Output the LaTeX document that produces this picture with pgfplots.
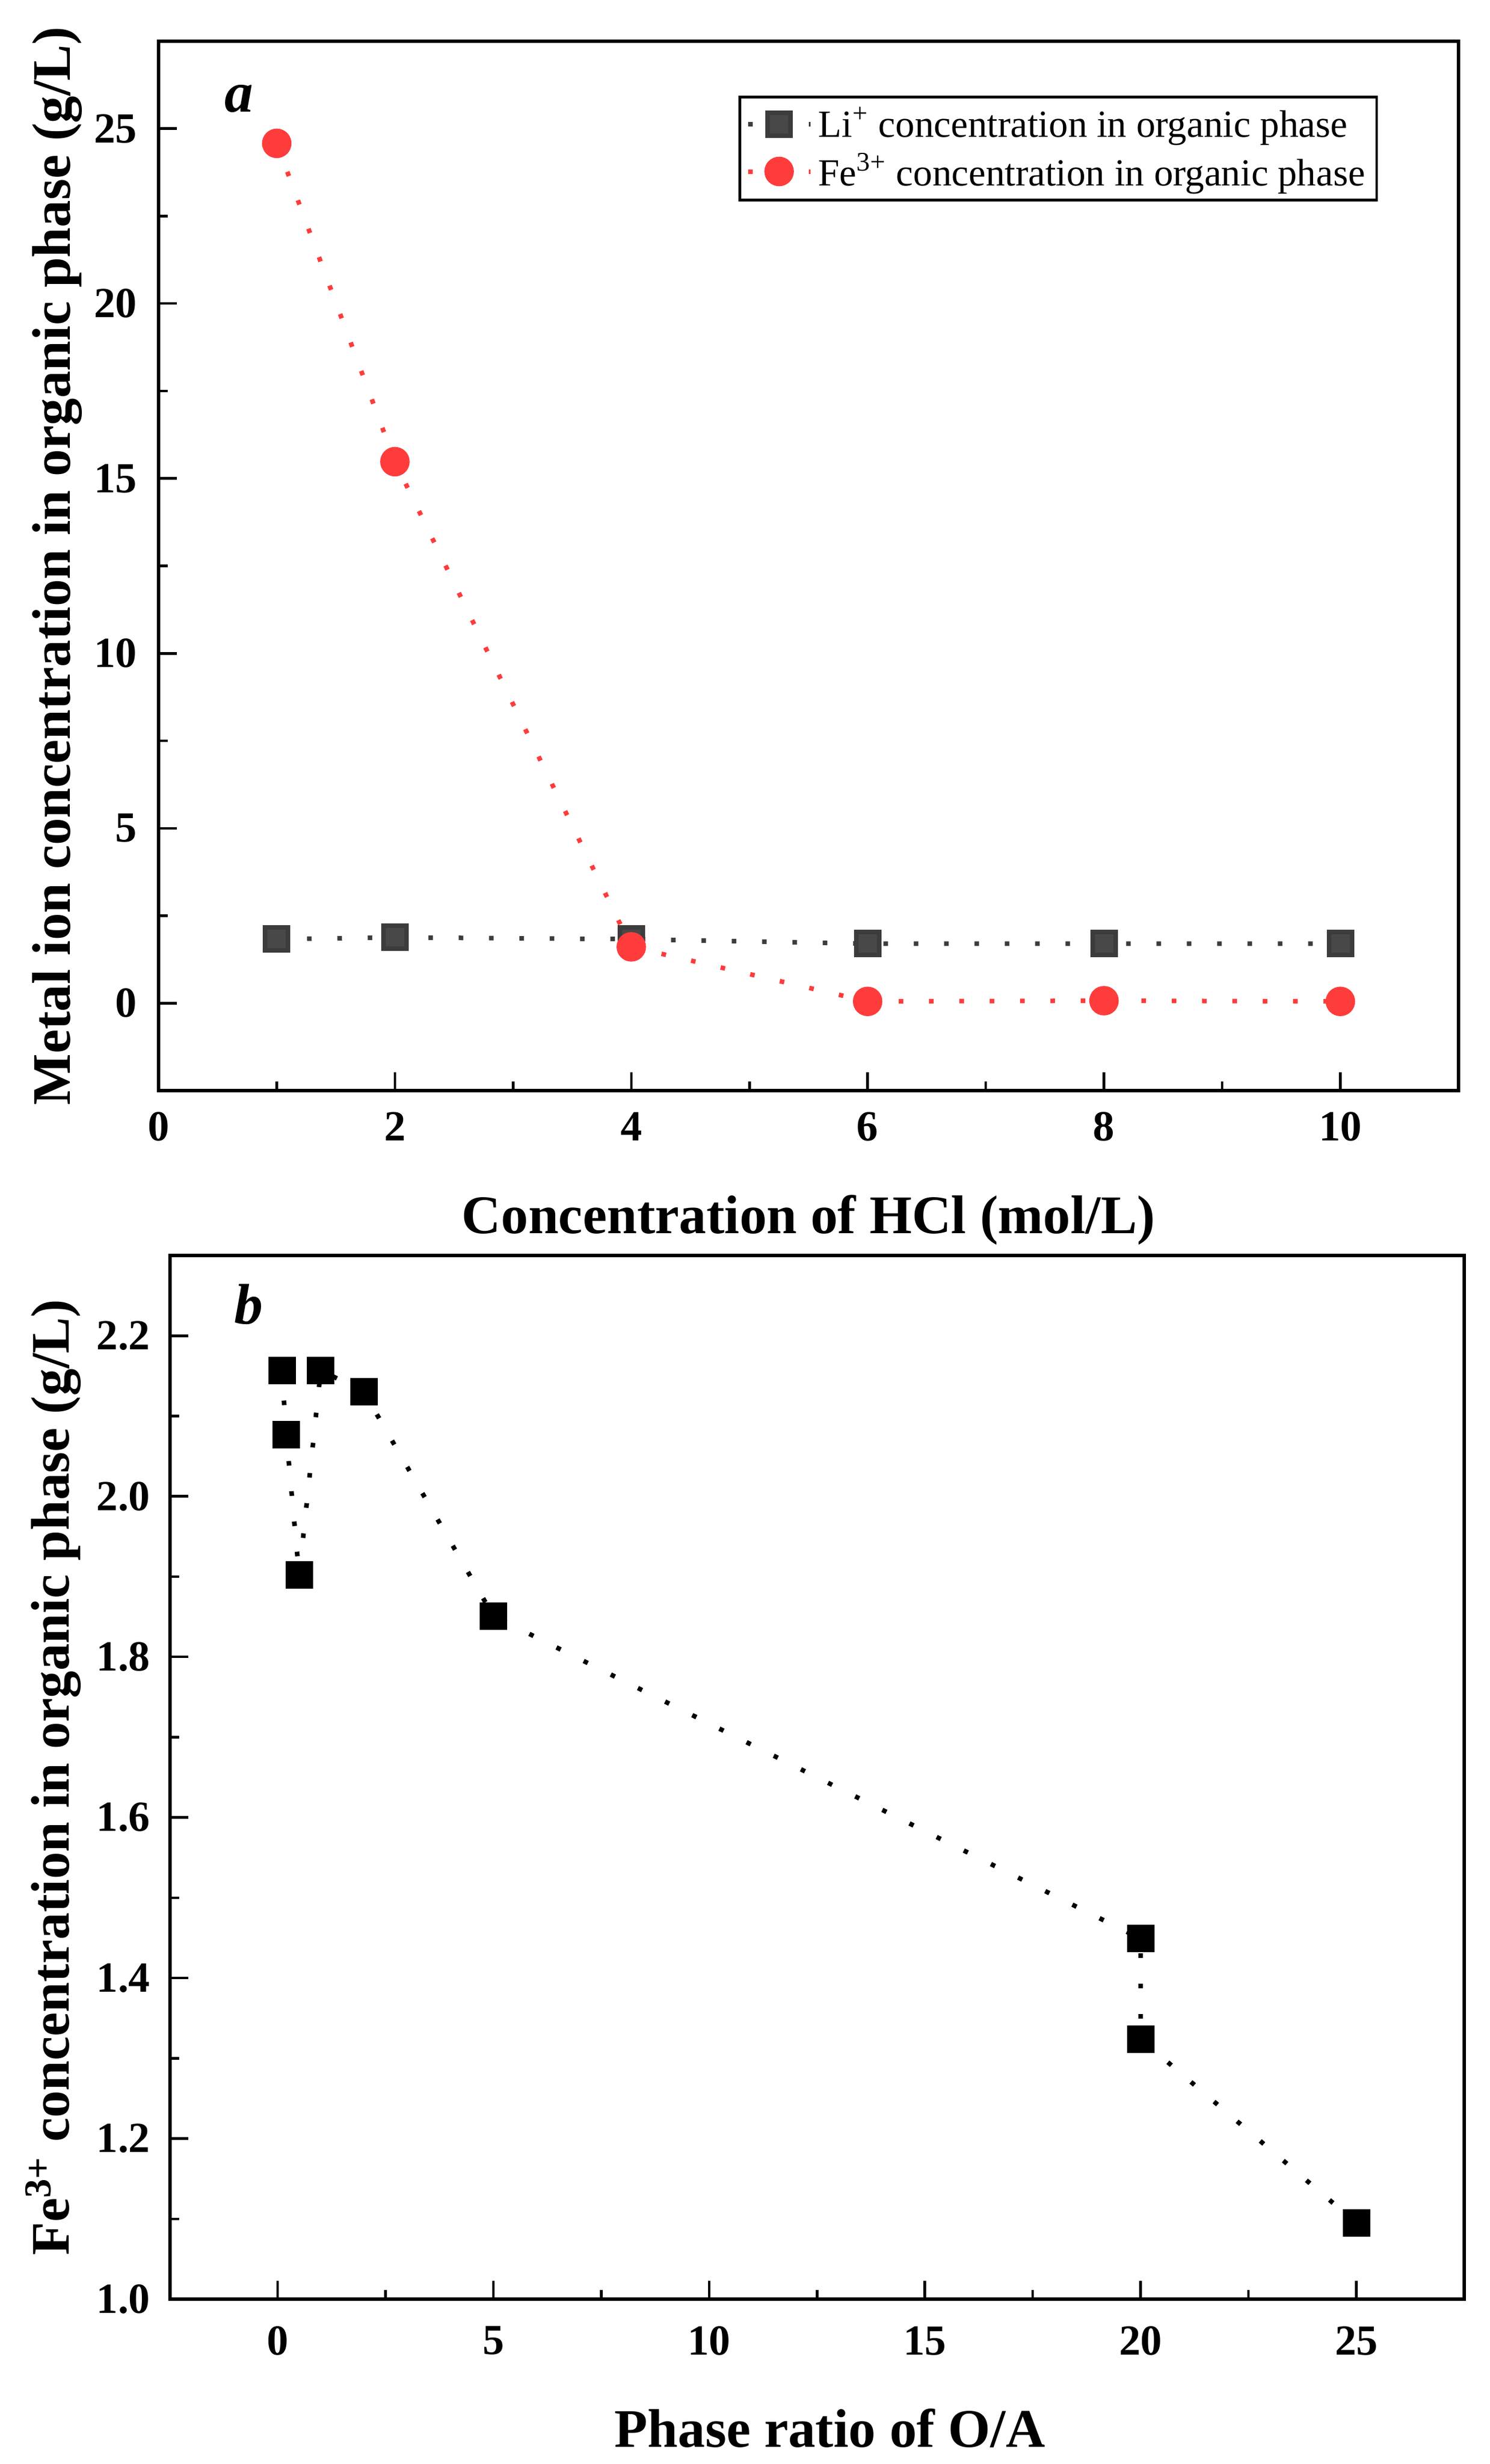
\documentclass[border=0pt]{standalone}
\usepackage{pgfplots}
\pgfplotsset{compat=1.18}
\usepackage{fontspec}
\setmainfont{Liberation Serif}

\definecolor{ligray}{RGB}{72,72,72}
\definecolor{liline}{RGB}{60,60,60}
\definecolor{fered}{RGB}{255,60,60}

\pgfplotsset{
  panel/.style={
    scale only axis,
    axis line style={line width=1.2pt},
    tick align=inside,
    tick pos=left,
    major tick length=6.5pt,
    minor tick length=3.2pt,
    every tick/.style={black, line width=0.9pt},
    tick label style={font=\fontsize{15}{17}\selectfont\bfseries},
    /pgf/number format/assume math mode=true,
    label style={font=\fontsize{19}{22}\selectfont\bfseries},
  },
  dots/.style={line width=1.6pt, dash pattern=on 1.6pt off 9pt},
}

\begin{document}
\begin{tikzpicture}
\path[use as bounding box] (0,0) rectangle (520.4pt,-860.8pt);

% (a) HCl concentration
\begin{axis}[panel,
  at={(55.4pt,-381pt)}, anchor=south west,
  width=454.2pt, height=366.6pt,
  xmin=0, xmax=11, ymin=-2.5, ymax=27.5,
  xtick={0,2,4,6,8,10}, minor x tick num=1,
  ytick={0,5,10,15,20,25}, minor y tick num=1,
  xticklabel style={yshift=-4pt},
  yticklabel style={xshift=-4pt},
  xlabel={Concentration of HCl (mol/L)},
  ylabel={Metal ion concentration in organic phase (g/L)},
  xlabel style={at={(axis description cs:0.5,-0.136)}, anchor=base},
  ylabel style={at={(axis description cs:-0.068,0.5)}, anchor=base},
  legend cell align=left,
  legend image code/.code={\draw[mark repeat=2, mark phase=2, #1] plot coordinates {(0pt,0pt) (10.9pt,0pt) (21.8pt,0pt)};},
  legend style={at={(0.938,0.948)}, anchor=north east, draw=black, line width=0.9pt,
    font=\fontsize{13.4}{15}\selectfont, inner xsep=2pt, inner ysep=1.5pt, row sep=0pt,
    /tikz/every even column/.append style={column sep=6pt}},
]
\addplot[liline, dots, mark=square*, mark size=4pt, mark options={solid, draw=none, fill=ligray}]
  coordinates {(1,1.83) (2,1.88) (4,1.83) (6,1.70) (8,1.70) (10,1.70)};
\addlegendentry{Li\textsuperscript{+} concentration in organic phase}
\addplot[fered, dots, mark=*, mark size=4.35pt, mark options={solid, draw=none, fill=fered}]
  coordinates {(1,24.58) (2,15.48) (4,1.61) (6,0.05) (8,0.07) (10,0.05)};
\addlegendentry{Fe\textsuperscript{3+} concentration in organic phase}
\node[font=\fontsize{20}{22}\selectfont\bfseries\itshape] at (rel axis cs:0.062,0.945) {a};
\end{axis}

% (b) phase ratio
\begin{axis}[panel,
  at={(59.3pt,-803.2pt)}, anchor=south west,
  width=452.3pt, height=364.6pt,
  xmin=-2.5, xmax=27.5, ymin=1.0, ymax=2.3,
  xtick={0,5,10,15,20,25}, minor x tick num=1,
  ytick={1,1.2,1.4,1.6,1.8,2,2.2}, minor y tick num=1,
  xticklabel style={yshift=-6pt},
  yticklabel style={xshift=-3.3pt, /pgf/number format/.cd, fixed, fixed zerofill, precision=1},
  xlabel={Phase ratio of O/A},
  ylabel={Fe\textsuperscript{3+} concentration in organic phase (g/L)},
  xlabel style={at={(axis description cs:0.51,-0.142)}, anchor=base},
  ylabel style={at={(axis description cs:-0.078,0.5)}, anchor=base},
]
\addplot[black, dots, mark=square*, mark size=4pt, mark options={solid, draw=none, fill=black}]
  coordinates {(0.1,2.157) (0.2,2.077) (0.5,1.902) (1,2.157) (2,2.130) (5,1.851) (20,1.449) (20,1.324) (25,1.095)};
\node[font=\fontsize{20}{22}\selectfont\bfseries\itshape] at (rel axis cs:0.061,0.953) {b};
\end{axis}
\end{tikzpicture}
\end{document}
